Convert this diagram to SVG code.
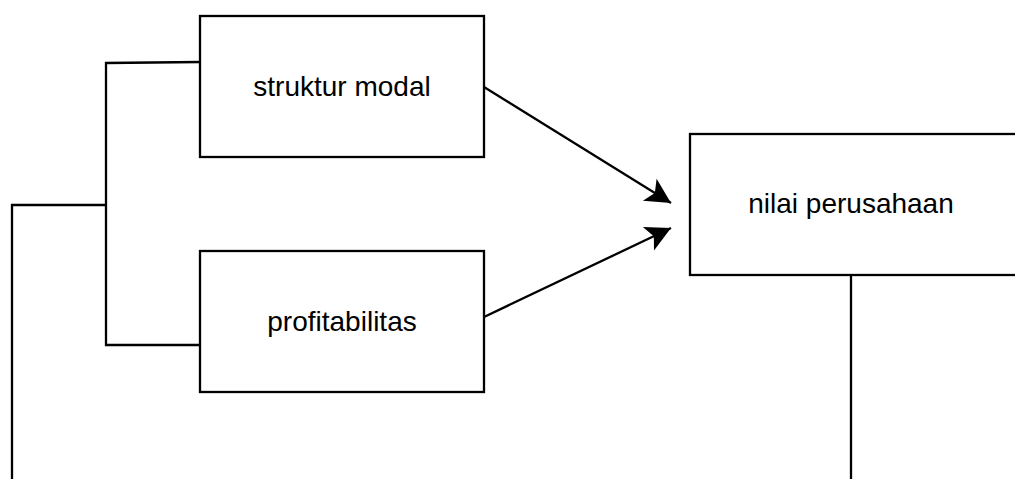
<svg xmlns="http://www.w3.org/2000/svg" width="1015" height="479" viewBox="0 0 1015 479">
<style>
.box{fill:#fff;stroke:#000;stroke-width:2.3}
.lbl{font-family:"Liberation Sans",Arial,sans-serif;font-size:28px;fill:#000;text-anchor:middle}
.ln{fill:none;stroke:#000;stroke-width:2.3}
</style>
<defs>
<marker id="arr" markerUnits="userSpaceOnUse" markerWidth="28" markerHeight="30" viewBox="-1 -15 28 30" refX="25" refY="0" orient="auto">
<path d="M0,-13 L25,0 L0,13 L6,0 Z" fill="#000"/>
</marker>
</defs>
<rect width="1015" height="479" fill="#fff"/>
<g id="connectors">
<polyline class="ln" points="200,62 106,63 106,345 200,345"/>
<polyline class="ln" points="106,205 12,205 12,479"/>
<line class="ln" x1="851" y1="275" x2="851" y2="479"/>
<line class="ln" x1="484" y1="87" x2="671" y2="203" marker-end="url(#arr)"/>
<line class="ln" x1="484" y1="317" x2="671" y2="228" marker-end="url(#arr)"/>
</g>
<g id="struktur-modal">
<rect class="box" x="200" y="16" width="284" height="141"/>
<text class="lbl" x="342" y="96">struktur modal</text>
</g>
<g id="profitabilitas">
<rect class="box" x="200" y="251" width="284" height="141"/>
<text class="lbl" x="342" y="331">profitabilitas</text>
</g>
<g id="nilai-perusahaan">
<rect class="box" x="690" y="134" width="340" height="141"/>
<text class="lbl" x="851" y="213">nilai perusahaan</text>
</g>
</svg>
